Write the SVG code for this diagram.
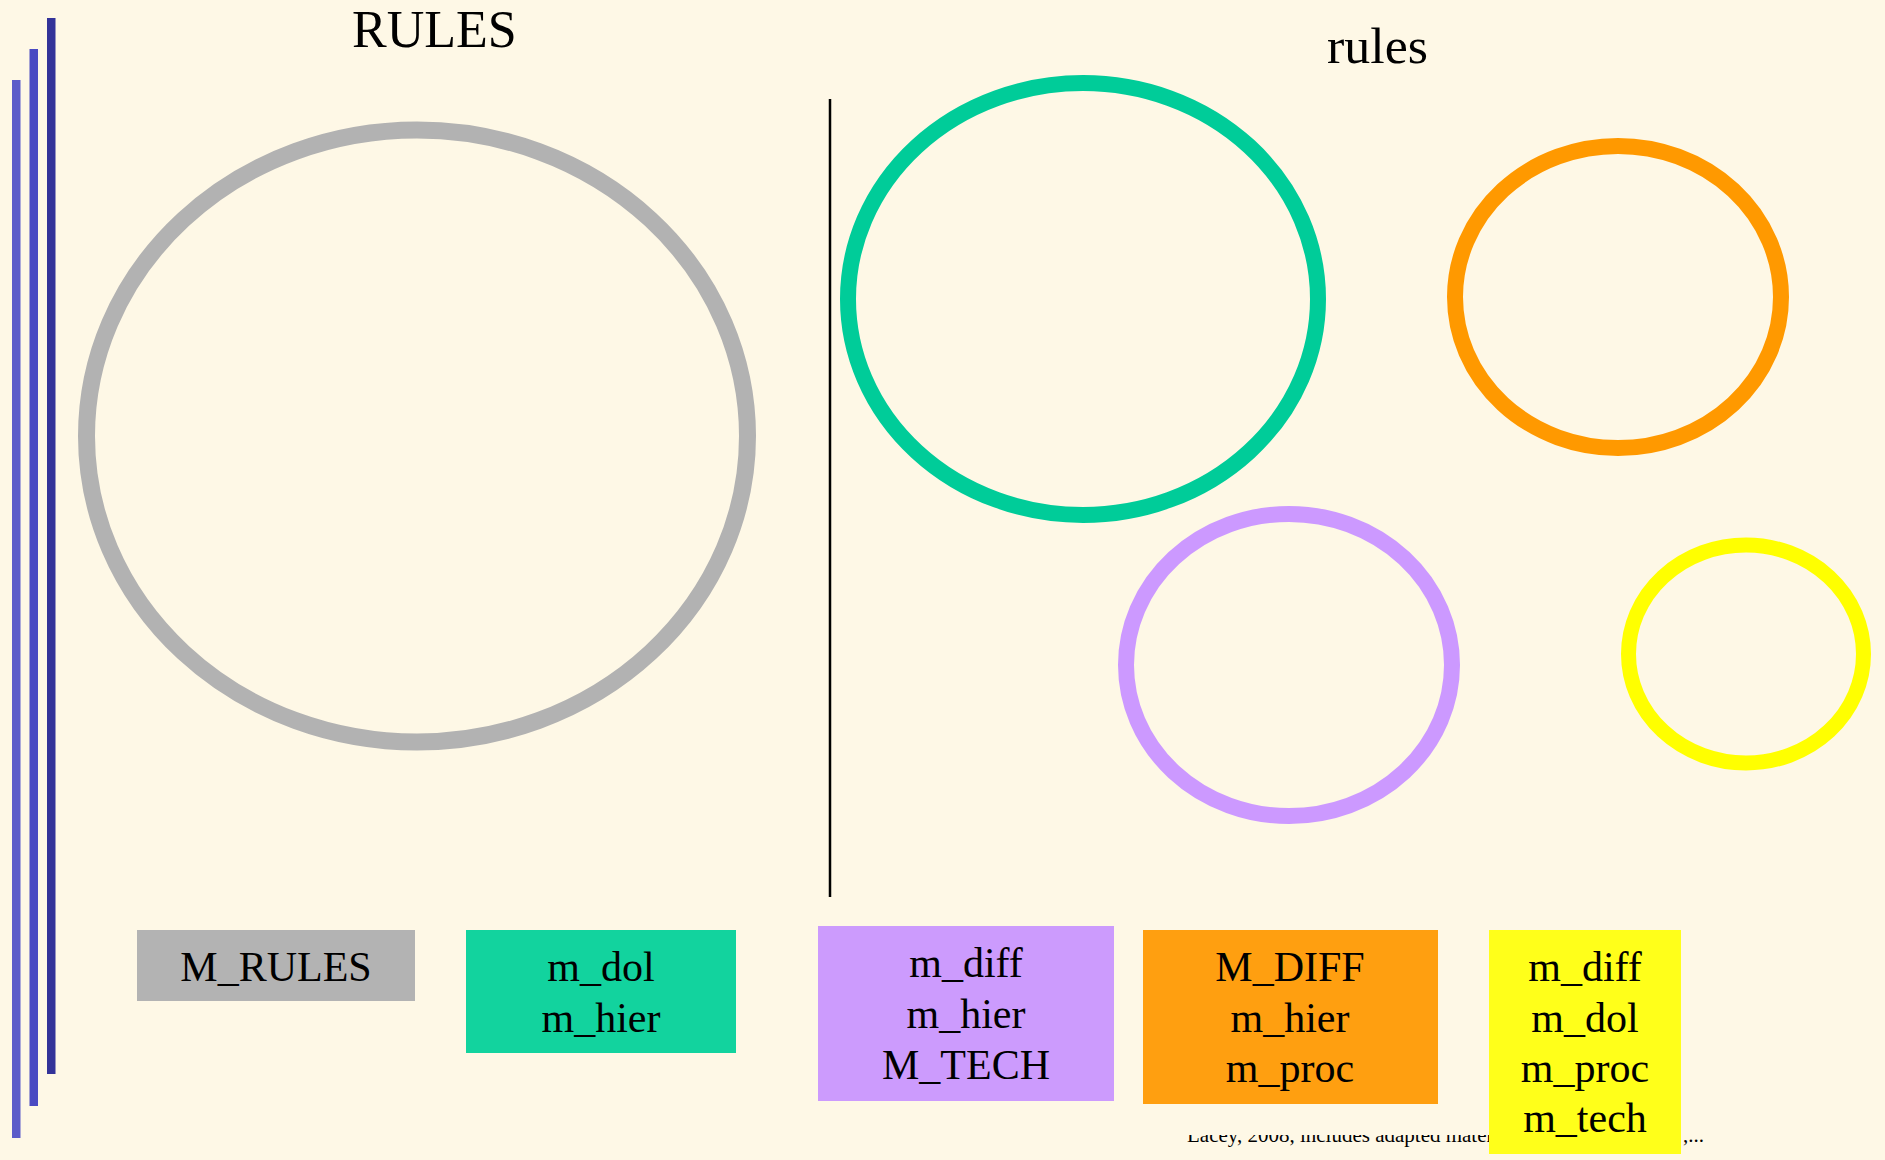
<svg xmlns="http://www.w3.org/2000/svg" width="1885" height="1160" viewBox="0 0 1885 1160">
<style>
  .t { font-family: "Liberation Serif", "Times New Roman", serif; fill: #000; }
  .lbl { font-size: 42px; text-anchor: middle; }
  .ring { fill: none; }
  .bar { stroke: none; }
</style>
<defs>
  <clipPath id="footClip"><rect x="0" y="1135" width="1885" height="25"/></clipPath>
</defs>
<rect width="1885" height="1160" fill="#fef8e6"/>

<g id="bars">
  <rect class="bar" x="12" y="80" width="8.5" height="1058" fill="#5c5cc9"/>
  <rect class="bar" x="29.5" y="49" width="8.5" height="1057" fill="#4a4ac2"/>
  <rect class="bar" x="47" y="18" width="8.5" height="1056" fill="#333399"/>
</g>

<g id="titles">
  <text class="t" x="352" y="47" font-size="52">RULES</text>
  <text class="t" x="1327" y="63" font-size="50" textLength="101" lengthAdjust="spacingAndGlyphs">rules</text>
</g>

<g id="divider">
  <line x1="830" y1="99" x2="830" y2="897" stroke="#000" stroke-width="2.5"/>
</g>

<g id="ring-gray"><ellipse class="ring" cx="417" cy="436" rx="330.5" ry="306" stroke="#b2b2b2" stroke-width="17"/></g>
<g id="ring-green"><ellipse class="ring" cx="1083" cy="299" rx="235" ry="216" stroke="#00cc99" stroke-width="16"/></g>
<g id="ring-orange"><ellipse class="ring" cx="1618" cy="297" rx="163" ry="151" stroke="#ff9900" stroke-width="16"/></g>
<g id="ring-purple"><ellipse class="ring" cx="1289" cy="665" rx="163" ry="151" stroke="#cc99ff" stroke-width="16"/></g>
<g id="ring-yellow"><ellipse class="ring" cx="1746" cy="654" rx="117.5" ry="109" stroke="#ffff00" stroke-width="15"/></g>

<g id="footer">
  <text class="t" font-size="21" y="1142" clip-path="url(#footClip)"><tspan x="1187">Lacey, 2008, includes adapted material</tspan><tspan x="1683">,...</tspan></text>
</g>

<g id="box-gray">
  <rect x="137" y="930" width="278" height="71" fill="#b3b3b3"/>
  <text class="t lbl" x="276" y="981">M_RULES</text>
</g>
<g id="box-green">
  <rect x="466" y="930" width="270" height="123" fill="#12d39e"/>
  <text class="t lbl" x="601" y="981">m_dol</text>
  <text class="t lbl" x="601" y="1032">m_hier</text>
</g>
<g id="box-purple">
  <rect x="818" y="926" width="296" height="175" fill="#cc9bfd"/>
  <text class="t lbl" x="966" y="977">m_diff</text>
  <text class="t lbl" x="966" y="1028">m_hier</text>
  <text class="t lbl" x="966" y="1079">M_TECH</text>
</g>
<g id="box-orange">
  <rect x="1143" y="930" width="295" height="174" fill="#ff9f10"/>
  <text class="t lbl" x="1290" y="981">M_DIFF</text>
  <text class="t lbl" x="1290" y="1032">m_hier</text>
  <text class="t lbl" x="1290" y="1082">m_proc</text>
</g>
<g id="box-yellow">
  <rect x="1489" y="930" width="192" height="224" fill="#ffff1a"/>
  <text class="t lbl" x="1585" y="981">m_diff</text>
  <text class="t lbl" x="1585" y="1032">m_dol</text>
  <text class="t lbl" x="1585" y="1082">m_proc</text>
  <text class="t lbl" x="1585" y="1132">m_tech</text>
</g>
</svg>
